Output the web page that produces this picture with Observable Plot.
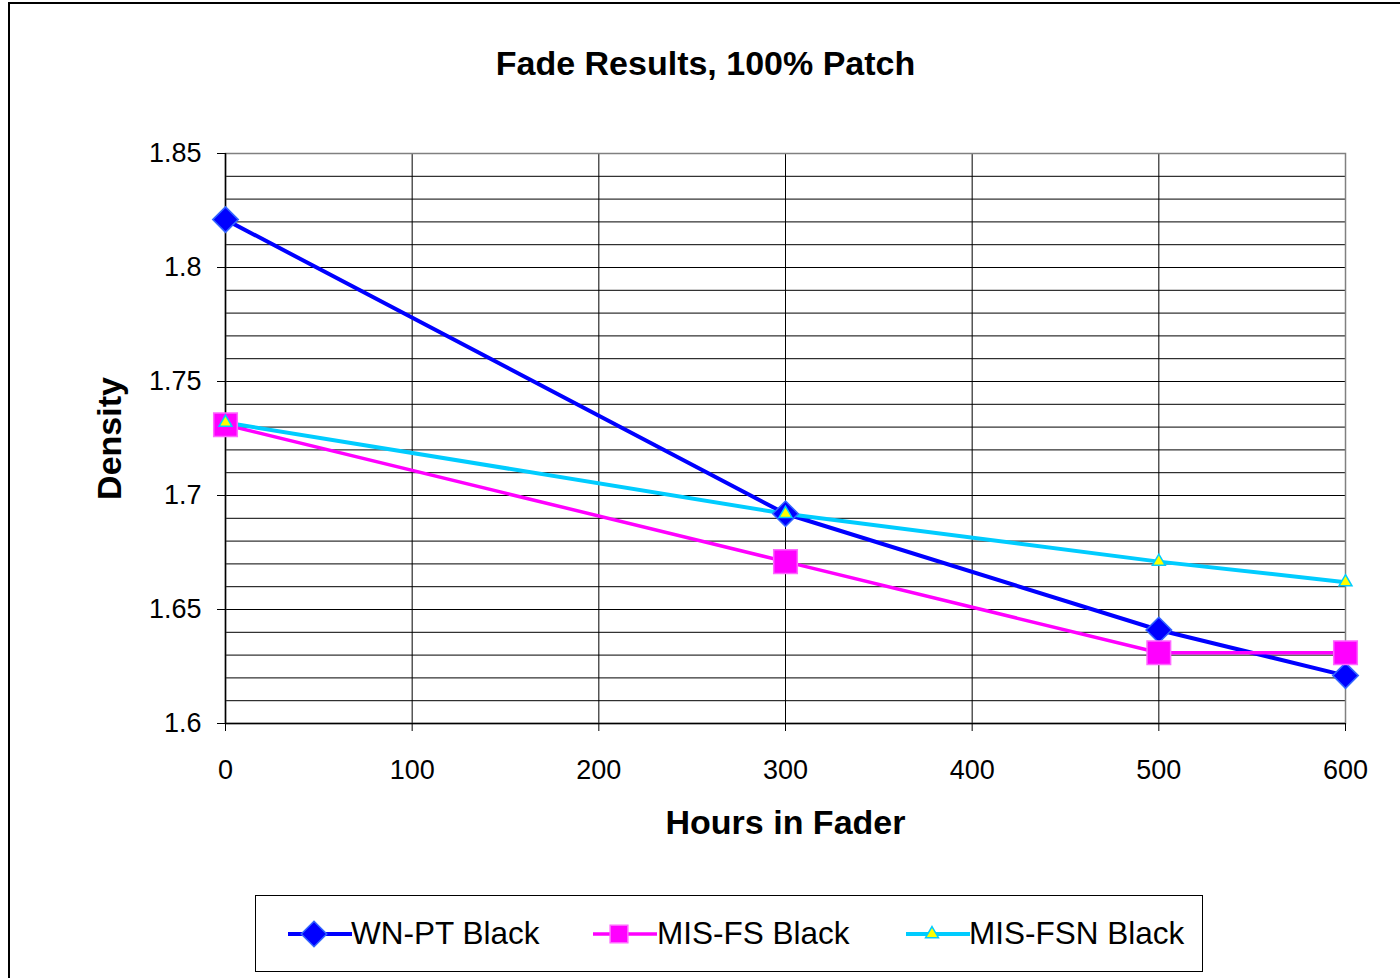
<!DOCTYPE html>
<html><head><meta charset="utf-8">
<script src="https://cdn.jsdelivr.net/npm/d3@7"></script>
<script src="https://cdn.jsdelivr.net/npm/@observablehq/plot@0.6"></script>
<style>
body{margin:0;background:#fff;}
#wrap{position:relative;width:1400px;height:978px;overflow:hidden;font-family:"Liberation Sans",Arial,sans-serif;background:#fff;}
#outer{position:absolute;left:8px;top:2px;width:1420px;height:1000px;border:2px solid #000;}
#chart{position:absolute;left:0;top:0;}
#legend{position:absolute;left:255px;top:895px;width:946px;height:75px;border:1.5px solid #000;background:#fff;}
.li{position:absolute;top:0;height:75px;display:flex;align-items:center;}
.lt{font-size:31.5px;color:#000;white-space:nowrap;}
</style></head>
<body>
<div id="wrap"><div id="outer"></div><div id="chart"></div><div id="legend"></div></div>
<script>
const title = "Fade Results, 100% Patch";
const xLabel = "Hours in Fader";
const yLabel = "Density";
const hours = [0, 300, 500, 600];
const seriesNames = ["WN-PT Black", "MIS-FS Black", "MIS-FSN Black"];
const wnpt = [1.821, 1.692, 1.641, 1.621];
const misfs = [1.731, 1.671, 1.631, 1.631];
const misfsn = [1.732, 1.692, 1.671, 1.662];
const xTicks = [0, 100, 200, 300, 400, 500, 600];
const yTicks = [1.6, 1.65, 1.7, 1.75, 1.8, 1.85];
const yTickLabels = ["1.6", "1.65", "1.7", "1.75", "1.8", "1.85"];
const yGrid = [1.6,1.61,1.62,1.63,1.64,1.65,1.66,1.67,1.68,1.69,1.7,1.71,1.72,1.73,1.74,1.75,1.76,1.77,1.78,1.79,1.8,1.81,1.82,1.83,1.84,1.85];

const styles = [
  {stroke: "#0000ff", sw: 4, symbol: "diamond2", r: 11.5, fill: "#0000ff", mstroke: "#3366ff", msw: 1.5},
  {stroke: "#ff00ff", sw: 3.5, symbol: "square", r: 13.3, fill: "#ff00ff", mstroke: "#ff66ff", msw: 1.5},
  {stroke: "#00ccff", sw: 4, symbol: "triangle", r: 4.8, fill: "#ffff00", mstroke: "#00ccff", msw: 1.5}
];
const values = [wnpt, misfs, misfsn];
const data = seriesNames.map((s, i) => hours.map((h, j) => ({series: s, i, hours: h, density: values[i][j]})));

const lineMarks = data.map((d, i) => Plot.line(d, {x: "hours", y: "density", stroke: styles[i].stroke, strokeWidth: styles[i].sw}));
const dotMarks = data.map((d, i) => Plot.dot(d, {x: "hours", y: "density", symbol: styles[i].symbol, r: styles[i].r, fill: styles[i].fill, stroke: styles[i].mstroke, strokeWidth: styles[i].msw}));

const chart = Plot.plot({
  width: 1400, height: 978,
  marginLeft: 225, marginRight: 55, marginTop: 153, marginBottom: 255,
  style: {fontFamily: '"Liberation Sans", Arial, sans-serif', fontSize: "27px", color: "#000", background: "transparent"},
  x: {domain: [0, 600]},
  y: {domain: [1.6, 1.85]},
  marks: [
    Plot.gridY(yGrid, {stroke: "#000", strokeOpacity: 1, strokeWidth: 1}),
    Plot.gridX(xTicks, {stroke: "#000", strokeOpacity: 1, strokeWidth: 1}),
    Plot.frame({stroke: "#808080", strokeWidth: 1.5}),
    Plot.ruleX([0], {stroke: "#000", strokeWidth: 1.5}),
    Plot.ruleY([1.6], {stroke: "#000", strokeWidth: 1.5}),
    Plot.axisY({ticks: yTicks, tickFormat: (d) => yTickLabels[yTicks.indexOf(d)], tickSize: 8, tickPadding: 16, label: null, fontSize: 27}),
    Plot.axisX({ticks: xTicks, tickFormat: (d) => String(d), tickSize: 8, tickPadding: 28, label: null, fontSize: 27}),
    ...lineMarks,
    ...dotMarks,
    Plot.text([title], {frameAnchor: "top", lineAnchor: "middle", dx: -80, dy: -89, fontSize: 34, fontWeight: "bold", fill: "#000"}),
    Plot.text([xLabel], {frameAnchor: "bottom", lineAnchor: "middle", dy: 100, fontSize: 34, fontWeight: "bold", fill: "#000"}),
    Plot.text([yLabel], {frameAnchor: "left", textAnchor: "middle", lineAnchor: "middle", dx: -115, rotate: -90, fontSize: 34, fontWeight: "bold", fill: "#000"})
  ]
});
document.getElementById("chart").appendChild(chart);

// legend
const legend = d3.select("#legend");
const legendPos = [{sym: 32, txt: 95}, {sym: 337, txt: 401}, {sym: 650, txt: 713}];
seriesNames.forEach((name, i) => {
  const st = styles[i];
  const item = legend.append("div").attr("class", "li").style("left", legendPos[i].sym + "px");
  const svg = item.append("svg").attr("width", 64).attr("height", 30);
  svg.append("line").attr("x1", 0).attr("x2", 64).attr("y1", 15).attr("y2", 15)
    .attr("stroke", st.stroke).attr("stroke-width", st.sw).attr("stroke-linecap", "round");
  const symType = {diamond2: d3.symbolDiamond2, square: d3.symbolSquare, triangle: d3.symbolTriangle}[st.symbol];
  const scale = i === 1 ? 0.75 : 1;
  svg.append("path").attr("d", d3.symbol(symType, Math.PI * (st.r * scale) ** 2)())
    .attr("transform", "translate(26,15)")
    .attr("fill", st.fill).attr("stroke", st.mstroke).attr("stroke-width", st.msw);
  legend.append("div").attr("class", "li lt").style("left", legendPos[i].txt + "px").text(name);
});
</script>
</body></html>
